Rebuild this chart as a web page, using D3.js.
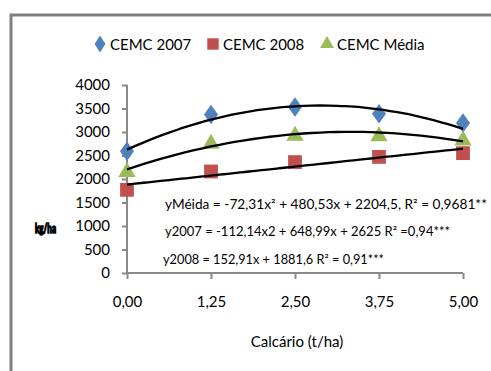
<!DOCTYPE html>
<html>
<head>
<meta charset="utf-8">
<script src="https://cdn.jsdelivr.net/npm/d3@7"></script>
<style>
  body { margin: 0; background: #fff; }
  svg { display: block; }
  text { font-family: Lato, "Open Sans", sans-serif; fill: #000; }
</style>
</head>
<body>
<script>
// data
const doses = [0, 1.25, 2.5, 3.75, 5];
const xTickLabels = ["0,00", "1,25", "2,50", "3,75", "5,00"];
const yTicks = [0, 500, 1000, 1500, 2000, 2500, 3000, 3500, 4000];
const cemc2007 = [2590, 3370, 3530, 3390, 3190];
const cemc2008 = [1770, 2160, 2360, 2470, 2550];
const cemcMedia = [2170, 2770, 2940, 2930, 2840];
const seriesNames = ["CEMC 2007", "CEMC 2008", "CEMC Média"];
// trendline coefficients [a, b, c] for a*x^2 + b*x + c
const trend2007 = [-112.14, 648.99, 2625];
const trend2008 = [0, 152.91, 1881.6];
const trendMedia = [-72.31, 480.53, 2204.5];
const equations = [
  "yMéida = -72,31x² + 480,53x + 2204,5,  R² = 0,9681**",
  "y2007 = -112,14x2 + 648,99x + 2625   R² =0,94***",
  "y2008 = 152,91x + 1881,6   R² = 0,91***"
];

const w = 491, h = 371;
const svg = d3.select("body").append("svg").attr("width", w).attr("height", h);

const grey = "#898989";

// outer frame (runs off the right and bottom of the picture)
svg.append("rect")
  .attr("x", 11).attr("y", 15)
  .attr("width", w + 20).attr("height", h)
  .attr("fill", "none")
  .attr("stroke", "#808080").attr("stroke-width", 3);

const xScale = d3.scaleLinear().domain([0, 5]).range([127, 463]);
const yScale = d3.scaleLinear().domain([0, 4000]).range([273, 85]);

// y axis
const yAxis = d3.axisLeft(yScale).tickValues(yTicks).tickFormat(d3.format("d")).tickSize(5).tickPadding(12);
const gy = svg.append("g").attr("transform", "translate(127,0)").call(yAxis);
gy.select(".domain").attr("stroke", grey).attr("stroke-width", 2).attr("d", "M0," + yScale(4000) + "V" + yScale(0));
gy.selectAll(".tick line").attr("stroke", grey).attr("stroke-width", 2);
gy.selectAll(".tick text").attr("font-size", 15).attr("font-family", "Lato").attr("fill", "#000");

// x axis
const xAxis = d3.axisBottom(xScale).tickValues(doses).tickFormat((d, i) => xTickLabels[i]).tickSize(6).tickPadding(17);
const gx = svg.append("g").attr("transform", "translate(0,273)").call(xAxis);
gx.select(".domain").attr("stroke", grey).attr("stroke-width", 2).attr("d", "M" + xScale(0) + ",0H" + xScale(5));
gx.selectAll(".tick line").attr("stroke", grey).attr("stroke-width", 2);
gx.selectAll(".tick text").attr("font-size", 15).attr("font-family", "Lato").attr("fill", "#000");

svg.append("text")
  .attr("x", 297).attr("y", 347)
  .attr("text-anchor", "middle").attr("font-size", 15)
  .text("Calcário (t/ha)");

// garbled y-axis title (a black smudge in the original)
svg.append("text")
  .attr("x", 35).attr("y", 233)
  .attr("font-weight", "bold").attr("font-size", 14)
  .attr("stroke", "#000").attr("stroke-width", 1.6)
  .attr("textLength", 21).attr("lengthAdjust", "spacingAndGlyphs")
  .text("kg/ha");

// markers
const colors = ["#4F81BD", "#C0504D", "#9BBB59"];
const symbols = [d3.symbolDiamond, d3.symbolSquare, d3.symbolTriangle];
const sizes = [110, 190, 130];
const allSeries = [cemc2007, cemc2008, cemcMedia];

allSeries.forEach((vals, s) => {
  svg.append("g").selectAll("path")
    .data(vals)
    .enter()
    .append("path")
    .attr("d", d3.symbol().type(symbols[s]).size(sizes[s]))
    .attr("transform", (d, i) => "translate(" + xScale(doses[i]) + "," + (yScale(d) + (s == 2 ? 1 : 0)) + ")" + (s == 0 ? " scale(1.25,1)" : ""))
    .attr("fill", colors[s]);
});

// trendlines
const line = d3.line().x(d => xScale(d[0])).y(d => yScale(d[1])).curve(d3.curveMonotoneX);
[trend2007, trendMedia, trend2008].forEach(c => {
  const pts = d3.range(0, 5.001, 0.125).map(x => [x, c[0] * x * x + c[1] * x + c[2]]);
  svg.append("path")
    .datum(pts)
    .attr("d", line)
    .attr("fill", "none")
    .attr("stroke", "#000")
    .attr("stroke-width", 2.3);
});

// equations
const eqX = [165, 165, 163];
const eqY = [209, 236, 264];
const eqLen = [322, 285, 221];
svg.append("g").selectAll("text")
  .data(equations)
  .enter()
  .append("text")
  .attr("x", (d, i) => eqX[i])
  .attr("y", (d, i) => eqY[i])
  .attr("font-size", 13)
  .attr("textLength", (d, i) => eqLen[i])
  .attr("lengthAdjust", "spacingAndGlyphs")
  .text(d => d);

// legend
const legX = [100, 213, 327];
const legTextX = [110, 223, 337];
const leg = svg.append("g");
seriesNames.forEach((name, s) => {
  leg.append("path")
    .attr("d", d3.symbol().type(symbols[s]).size(s == 1 ? 130 : 85))
    .attr("transform", "translate(" + legX[s] + "," + 44 + ")" + (s == 0 ? " scale(1.1,1)" : ""))
    .attr("fill", colors[s]);
  leg.append("text")
    .attr("x", legTextX[s]).attr("y", 49.5)
    .attr("font-size", 15)
    .text(name);
});
</script>
</body>
</html>
